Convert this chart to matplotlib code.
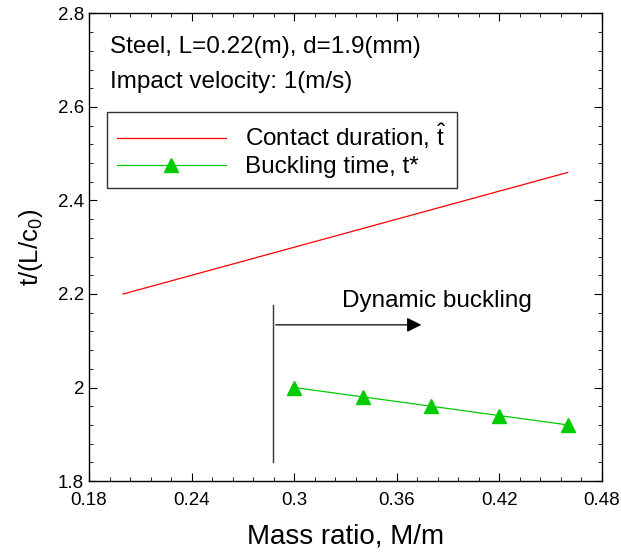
import matplotlib
matplotlib.use("Agg")
import matplotlib.pyplot as plt
from matplotlib.ticker import MultipleLocator, FuncFormatter

plt.rcParams['font.family'] = ['Liberation Sans', 'DejaVu Sans']
plt.rcParams['mathtext.fontset'] = 'custom'
plt.rcParams['mathtext.rm'] = 'Liberation Sans'
plt.rcParams['mathtext.it'] = 'Liberation Sans'

# data
contact_mass = [0.2, 0.46]
contact_time = [2.2, 2.46]
buckling_mass = [0.3, 0.34, 0.38, 0.42, 0.46]
buckling_time = [2.0, 1.98, 1.96, 1.94, 1.92]

fig = plt.figure(figsize=(6.21, 5.52), dpi=100)
ax = fig.add_axes([0.1433, 0.1286, 0.826, 0.847])

ax.plot(contact_mass, contact_time, color='#ff0000', lw=0.9, label=r'Contact duration, $\hat{\mathrm{t}}$')
ax.plot(buckling_mass, buckling_time, color='#00cc00', lw=0.9, marker='^', ms=10,
        markerfacecolor='#00cc00', markeredgecolor='#00cc00', label='Buckling time, t*')

# dynamic buckling marker
ax.plot([0.2876, 0.2876], [1.841, 2.177], color='#333333', lw=1.0)
ax.annotate('', xy=(0.376, 2.134), xytext=(0.2876, 2.134),
            arrowprops=dict(arrowstyle='-|>', color='black', lw=0.9, mutation_scale=22))
ax.text(0.328, 2.185, 'Dynamic buckling', fontsize=17.5, va='center', ha='left')

ax.text(0.192, 2.728, 'Steel, L=0.22(m), d=1.9(mm)', fontsize=17.5, va='center')
ax.text(0.192, 2.653, 'Impact velocity: 1(m/s)', fontsize=17.5, va='center')

ax.set_xlim(0.18, 0.48)
ax.set_ylim(1.8, 2.8)
ax.xaxis.set_major_locator(MultipleLocator(0.06))
ax.xaxis.set_minor_locator(MultipleLocator(0.012))
ax.yaxis.set_major_locator(MultipleLocator(0.2))
ax.yaxis.set_minor_locator(MultipleLocator(0.04))
ax.xaxis.set_major_formatter(FuncFormatter(lambda v, p: f'{round(v, 2):g}'))
ax.yaxis.set_major_formatter(FuncFormatter(lambda v, p: f'{round(v, 2):g}'))
ax.tick_params(which='both', direction='in', top=True, right=True, labelsize=13.5)
ax.tick_params(which='major', length=6)
ax.tick_params(which='minor', length=3)
ax.tick_params(axis='x', pad=8)
for s in ax.spines.values():
    s.set_linewidth(1.0)

ax.set_xlabel('Mass ratio, M/m', fontsize=20, labelpad=10)
ax.set_ylabel(r'$\mathrm{t/(L/c_0)}$', fontsize=18.5, labelpad=9)

leg = ax.legend(loc='upper left', bbox_to_anchor=(0.035, 0.789), borderaxespad=0,
                fontsize=17.5, frameon=True, fancybox=False, edgecolor='black',
                handlelength=4.5, handletextpad=0.8, borderpad=0.4, labelspacing=0.2)
leg.get_frame().set_linewidth(1.0)

fig.savefig('out.png', dpi=100)
